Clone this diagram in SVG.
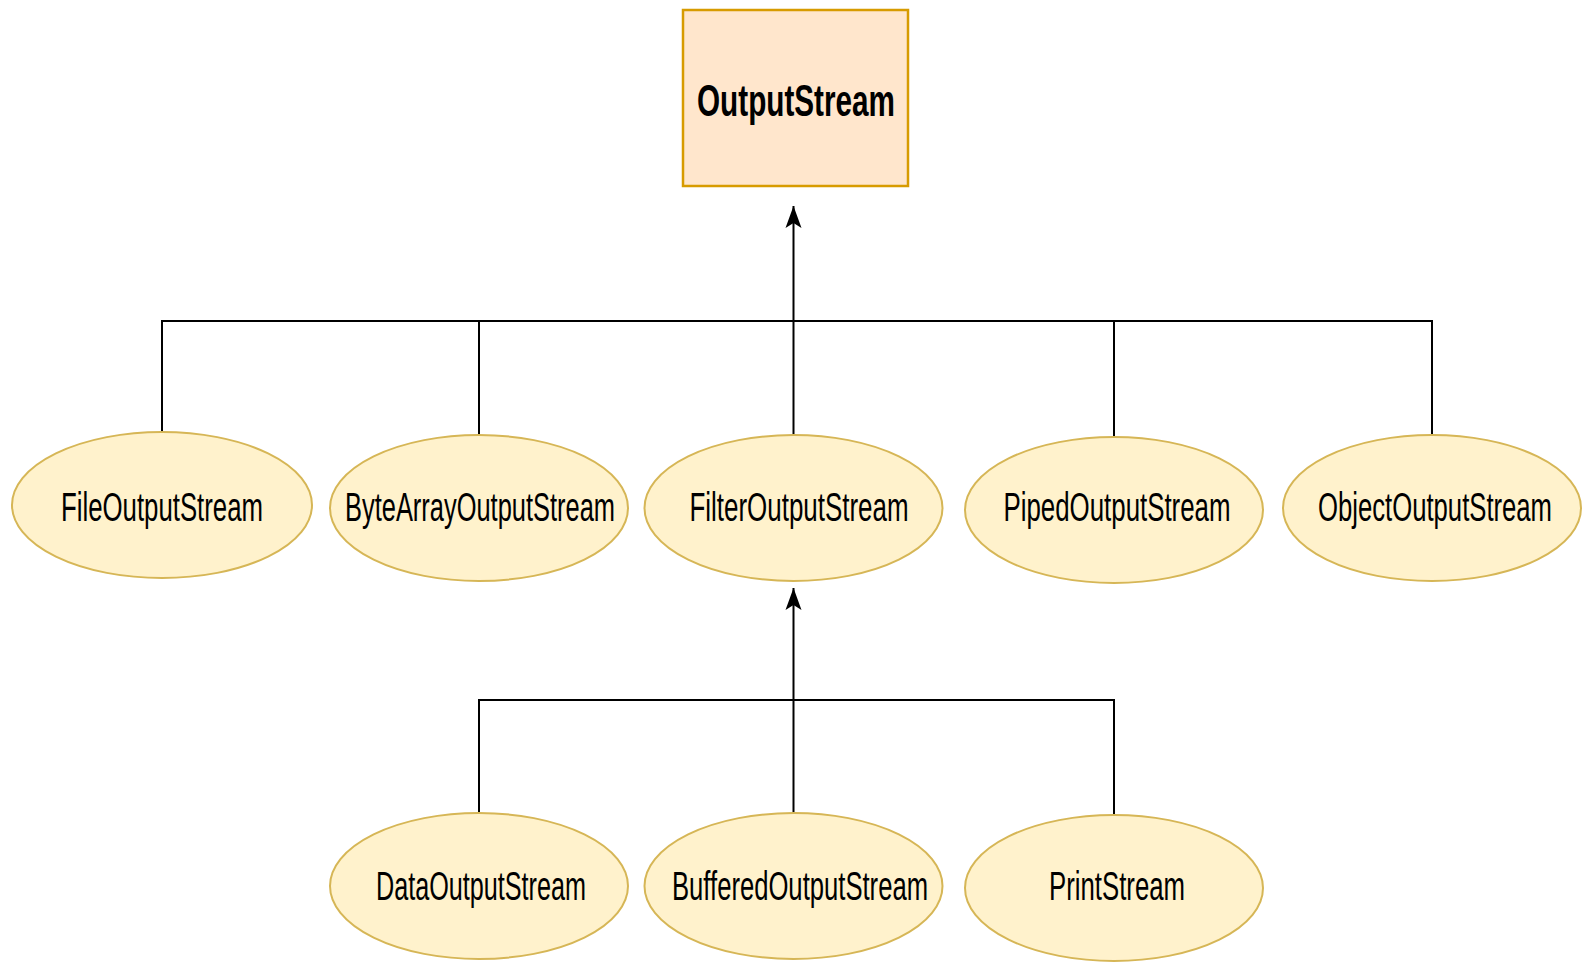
<svg xmlns="http://www.w3.org/2000/svg" width="1587" height="963" viewBox="0 0 1587 963">
<style>
.ell{fill:#fff2cc;stroke:#d6b656;stroke-width:2}
.box{fill:#ffe6cc;stroke:#d79b00;stroke-width:2.5}
.lbl{font-family:"Liberation Sans",Arial,sans-serif;font-size:40px;fill:#000;text-anchor:middle}
.ttl{font-family:"Liberation Sans",Arial,sans-serif;font-size:44px;font-weight:bold;fill:#000;text-anchor:middle}
.con{fill:none;stroke:#000;stroke-width:2}
</style>
<defs>
<marker id="arr" markerUnits="userSpaceOnUse" viewBox="-23 -9 24 18" refX="0" refY="0" markerWidth="24" markerHeight="18" orient="auto">
<path d="M0,0 L-22,-8 L-17,0 L-22,8 Z" fill="#000"/>
</marker>
</defs>
<rect width="1587" height="963" fill="#fff"/>
<g id="connectors">
<path class="con" d="M162,432 V321 H1432 V435"/>
<path class="con" d="M479,321 V435"/>
<path class="con" d="M1114,321 V437"/>
<path class="con" d="M793.5,435 V206" marker-end="url(#arr)"/>
<path class="con" d="M479,813 V700 H1114 V816"/>
<path class="con" d="M793.5,813 V588" marker-end="url(#arr)"/>
</g>
<g id="OutputStream">
<rect class="box" x="683" y="10" width="225" height="176"/>
<text class="ttl" x="796" y="116" textLength="198" lengthAdjust="spacingAndGlyphs">OutputStream</text>
</g>
<g id="FileOutputStream">
<ellipse class="ell" cx="162" cy="505" rx="150" ry="73"/>
<text class="lbl" x="162" y="521" textLength="202" lengthAdjust="spacingAndGlyphs">FileOutputStream</text>
</g>
<g id="ByteArrayOutputStream">
<ellipse class="ell" cx="479" cy="508" rx="149" ry="73"/>
<text class="lbl" x="480" y="521" textLength="270" lengthAdjust="spacingAndGlyphs">ByteArrayOutputStream</text>
</g>
<g id="FilterOutputStream">
<ellipse class="ell" cx="793.5" cy="508" rx="149" ry="73"/>
<text class="lbl" x="799" y="521" textLength="219" lengthAdjust="spacingAndGlyphs">FilterOutputStream</text>
</g>
<g id="PipedOutputStream">
<ellipse class="ell" cx="1114" cy="510" rx="149" ry="73"/>
<text class="lbl" x="1117" y="521" textLength="227" lengthAdjust="spacingAndGlyphs">PipedOutputStream</text>
</g>
<g id="ObjectOutputStream">
<ellipse class="ell" cx="1432" cy="508" rx="149" ry="73"/>
<text class="lbl" x="1435" y="521" textLength="234" lengthAdjust="spacingAndGlyphs">ObjectOutputStream</text>
</g>
<g id="DataOutputStream">
<ellipse class="ell" cx="479" cy="886" rx="149" ry="73"/>
<text class="lbl" x="481" y="900" textLength="210" lengthAdjust="spacingAndGlyphs">DataOutputStream</text>
</g>
<g id="BufferedOutputStream">
<ellipse class="ell" cx="793.5" cy="886" rx="149" ry="73"/>
<text class="lbl" x="800" y="900" textLength="256" lengthAdjust="spacingAndGlyphs">BufferedOutputStream</text>
</g>
<g id="PrintStream">
<ellipse class="ell" cx="1114" cy="888" rx="149" ry="73"/>
<text class="lbl" x="1117" y="900" textLength="136" lengthAdjust="spacingAndGlyphs">PrintStream</text>
</g>
</svg>
